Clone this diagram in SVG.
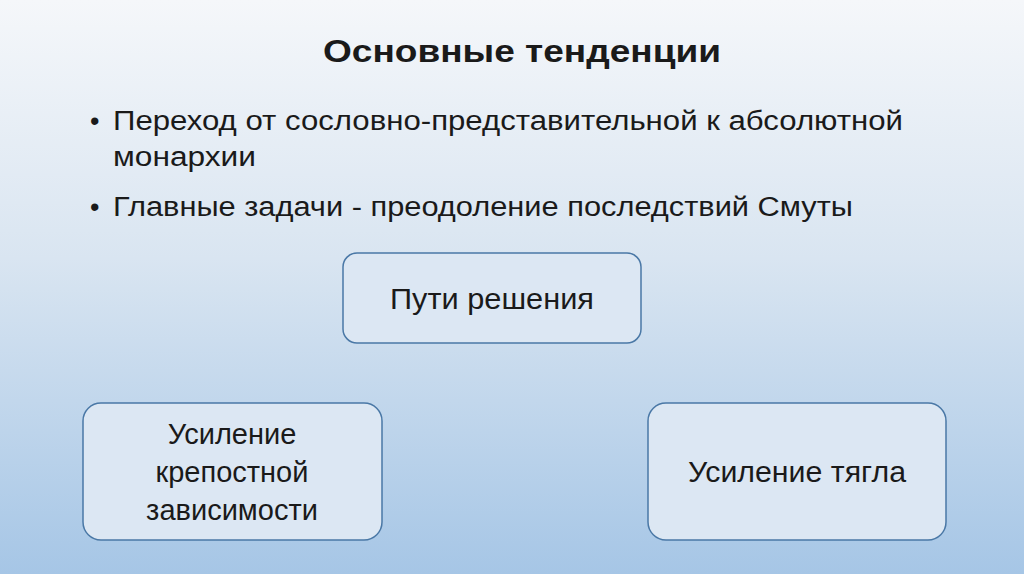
<svg xmlns="http://www.w3.org/2000/svg" width="1024" height="574" viewBox="0 0 1024 574">
<defs>
<linearGradient id="bg" x1="0" y1="0" x2="0" y2="1">
<stop offset="0" stop-color="#f5f7fa"/><stop offset="0.45" stop-color="#d9e5f1"/><stop offset="1" stop-color="#a6c6e6"/>
</linearGradient>
</defs>
<style>
.t{font-family:"Liberation Sans","Noto Sans",sans-serif;fill:#1a1a1a}
.b{fill:#dce7f3;stroke:#4a78a6;stroke-width:1.5}
.n{font-size:29px;text-anchor:middle}
</style>
<rect width="1024" height="574" fill="url(#bg)"/>
<text class="t" x="522" y="62" font-size="32" font-weight="bold" text-anchor="middle" textLength="398" lengthAdjust="spacingAndGlyphs">Основные тенденции</text>
<g class="t" font-size="27">
<text x="90" y="130">•</text>
<text x="113" y="130" textLength="790" lengthAdjust="spacingAndGlyphs">Переход от сословно-представительной к абсолютной</text>
<text x="113" y="166" textLength="143" lengthAdjust="spacingAndGlyphs">монархии</text>
<text x="90" y="216">•</text>
<text x="113" y="216" textLength="740" lengthAdjust="spacingAndGlyphs">Главные задачи - преодоление последствий Смуты</text>
</g>
<g id="node1"><rect class="b" x="343" y="253" width="298" height="90" rx="14"/><text class="t n" x="492" y="309" textLength="204" lengthAdjust="spacingAndGlyphs">Пути решения</text></g>
<g id="node2"><rect class="b" x="83" y="403" width="299" height="137" rx="18"/>
<text class="t n" x="232" y="444">Усиление</text><text class="t n" x="232" y="482">крепостной</text><text class="t n" x="232" y="520">зависимости</text></g>
<g id="node3"><rect class="b" x="648" y="403" width="298" height="137" rx="18"/><text class="t n" x="797" y="482" textLength="218" lengthAdjust="spacingAndGlyphs">Усиление тягла</text></g>
<g id="connectors"/>
</svg>
